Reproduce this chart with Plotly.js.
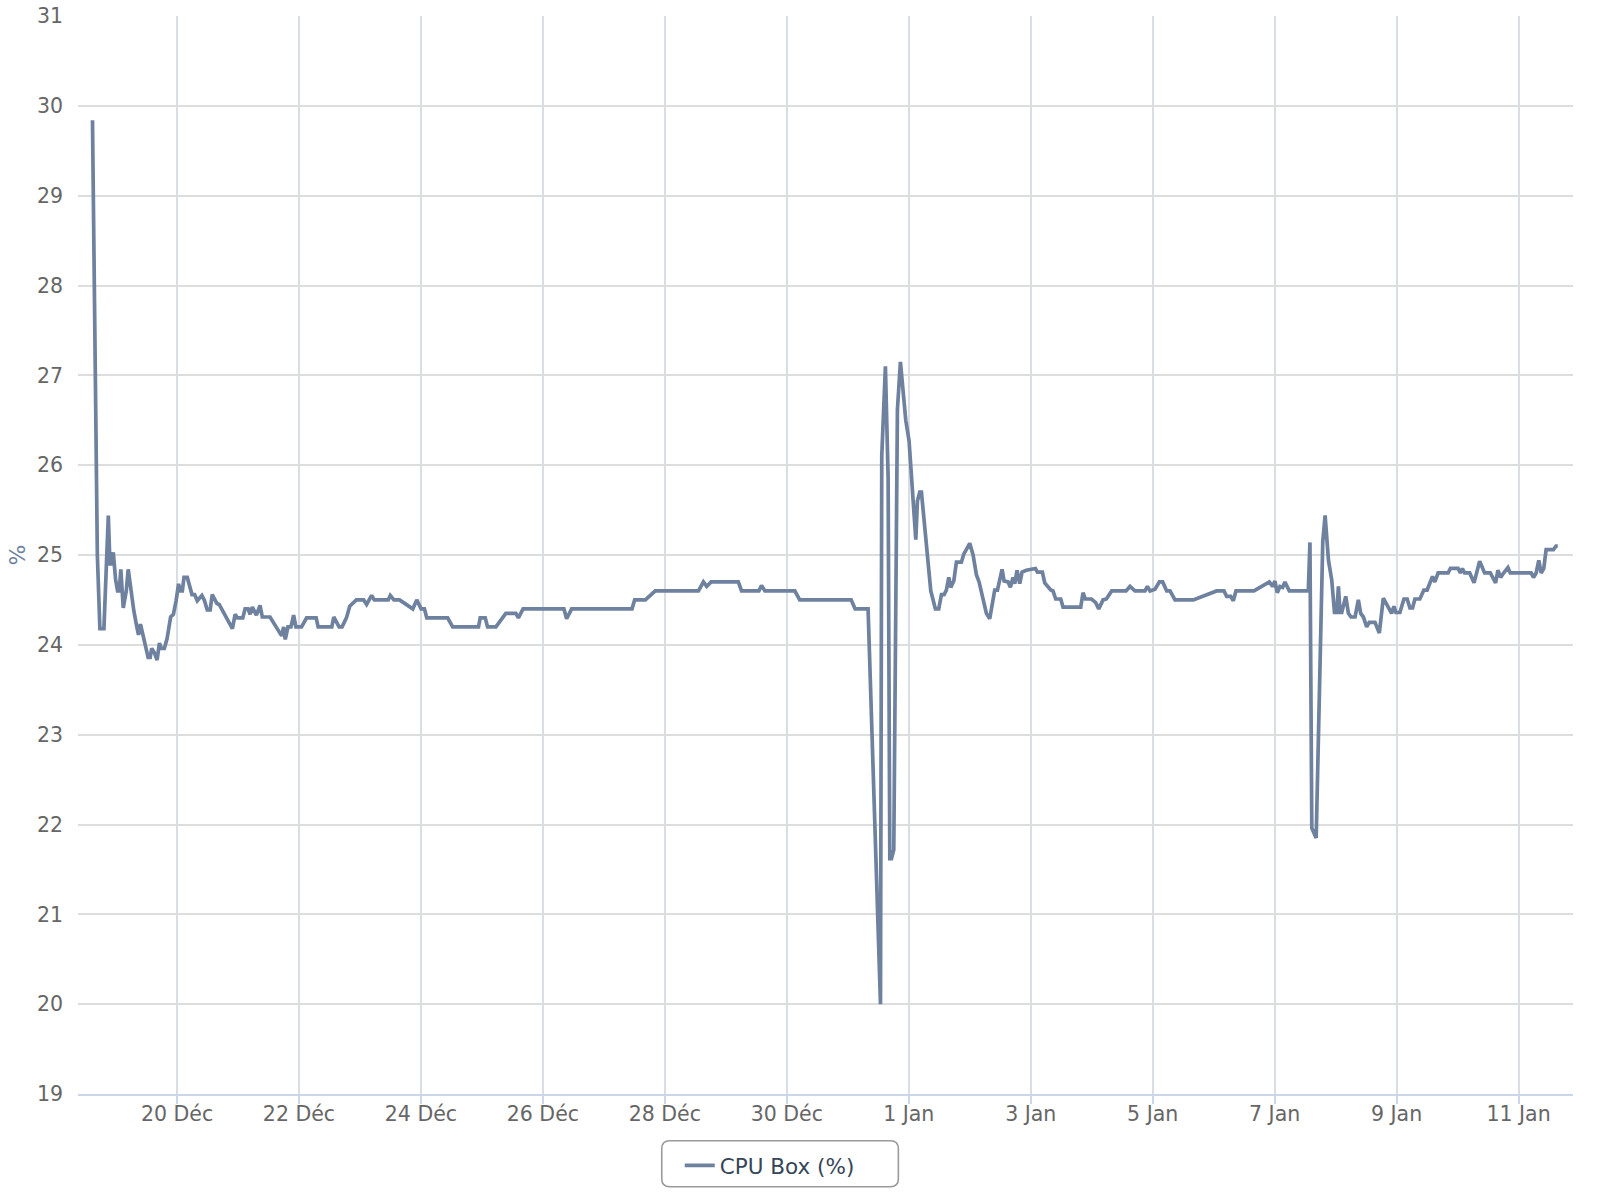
<!DOCTYPE html>
<html>
<head>
<meta charset="utf-8">
<script src="https://cdn.plot.ly/plotly-3.0.1.min.js"></script>
<style>html,body{margin:0;padding:0;background:#fff;}#chart{width:1600px;height:1202px;}</style>
</head>
<body>
<div id="chart"></div>
<script>
const seriesName = "CPU Box (%)";
const yAxisLabel = "%";

const times = [
"2023-12-18 14:43","2023-12-18 16:38","2023-12-18 17:38","2023-12-18 19:13","2023-12-18 20:57","2023-12-18 21:35","2023-12-18 22:13","2023-12-18 22:54","2023-12-18 23:48",
"2023-12-19 00:36","2023-12-19 01:15","2023-12-19 01:52","2023-12-19 02:50","2023-12-19 04:01","2023-12-19 04:47","2023-12-19 05:49","2023-12-19 06:59","2023-12-19 08:10","2023-12-19 08:50","2023-12-19 09:36","2023-12-19 10:31","2023-12-19 11:34","2023-12-19 12:37","2023-12-19 13:25","2023-12-19 14:02","2023-12-19 15:06","2023-12-19 16:09","2023-12-19 17:04","2023-12-19 17:50","2023-12-19 19:00","2023-12-19 20:05","2023-12-19 21:29","2023-12-19 22:34","2023-12-19 23:37",
"2023-12-20 00:37","2023-12-20 01:11","2023-12-20 02:05","2023-12-20 02:44","2023-12-20 04:02","2023-12-20 05:53","2023-12-20 06:55","2023-12-20 07:58","2023-12-20 09:47","2023-12-20 10:42","2023-12-20 11:53","2023-12-20 13:03","2023-12-20 13:51","2023-12-20 15:42","2023-12-20 16:35","2023-12-20 21:47","2023-12-20 22:52","2023-12-20 23:46",
"2023-12-21 01:52","2023-12-21 02:47","2023-12-21 03:58","2023-12-21 04:45","2023-12-21 05:38","2023-12-21 07:13","2023-12-21 08:40","2023-12-21 09:34","2023-12-21 12:36","2023-12-21 17:11","2023-12-21 17:57","2023-12-21 18:36","2023-12-21 19:39","2023-12-21 20:50","2023-12-21 21:53","2023-12-21 22:46",
"2023-12-22 01:00","2023-12-22 02:59","2023-12-22 06:45","2023-12-22 07:32","2023-12-22 12:55","2023-12-22 13:41","2023-12-22 15:46","2023-12-22 16:57","2023-12-22 18:40","2023-12-22 19:58","2023-12-22 21:01","2023-12-22 22:35",
"2023-12-23 01:26","2023-12-23 02:37","2023-12-23 04:35","2023-12-23 05:38","2023-12-23 11:08","2023-12-23 11:56","2023-12-23 13:21","2023-12-23 15:34","2023-12-23 20:47","2023-12-23 22:21",
"2023-12-24 00:04","2023-12-24 01:22","2023-12-24 02:17","2023-12-24 10:31","2023-12-24 12:29","2023-12-24 22:39","2023-12-24 23:20",
"2023-12-25 01:18","2023-12-25 02:13","2023-12-25 05:30","2023-12-25 06:48","2023-12-25 09:24","2023-12-25 13:21","2023-12-25 14:21","2023-12-25 16:12",
"2023-12-26 08:17","2023-12-26 09:20","2023-12-26 11:18","2023-12-27 11:04","2023-12-27 12:07","2023-12-27 16:19","2023-12-27 20:14",
"2023-12-28 13:13","2023-12-28 15:10","2023-12-28 16:28","2023-12-28 18:11","2023-12-29 04:54","2023-12-29 06:12","2023-12-29 13:00","2023-12-29 14:02","2023-12-29 15:23",
"2023-12-30 03:09","2023-12-30 05:05","2023-12-31 01:21","2023-12-31 02:54","2023-12-31 07:59","2023-12-31 12:52","2023-12-31 13:22","2023-12-31 14:48","2023-12-31 15:52","2023-12-31 16:32","2023-12-31 17:11","2023-12-31 18:06","2023-12-31 19:32","2023-12-31 20:43","2023-12-31 22:49",
"2024-01-01 00:07","2024-01-01 02:46","2024-01-01 03:24","2024-01-01 04:19","2024-01-01 04:59","2024-01-01 06:42","2024-01-01 08:40","2024-01-01 10:29","2024-01-01 11:48","2024-01-01 12:52","2024-01-01 13:54","2024-01-01 14:48","2024-01-01 15:45","2024-01-01 16:32","2024-01-01 17:43","2024-01-01 18:45","2024-01-01 20:43","2024-01-01 21:39",
"2024-01-02 00:00","2024-01-02 01:19","2024-01-02 02:37","2024-01-02 03:40","2024-01-02 04:59","2024-01-02 06:33","2024-01-02 07:52","2024-01-02 09:50","2024-01-02 10:54","2024-01-02 12:43","2024-01-02 13:31","2024-01-02 15:04","2024-01-02 16:00","2024-01-02 17:02","2024-01-02 17:43","2024-01-02 18:37","2024-01-02 19:41","2024-01-02 20:35","2024-01-02 22:17",
"2024-01-03 01:51","2024-01-03 02:37","2024-01-03 04:35","2024-01-03 05:31","2024-01-03 06:49","2024-01-03 07:52","2024-01-03 08:47","2024-01-03 09:50","2024-01-03 11:48","2024-01-03 12:43","2024-01-03 19:41","2024-01-03 20:35","2024-01-03 21:30","2024-01-03 23:53",
"2024-01-04 01:35","2024-01-04 02:46","2024-01-04 04:28","2024-01-04 05:46","2024-01-04 07:52","2024-01-04 13:31","2024-01-04 15:04","2024-01-04 17:02","2024-01-04 20:59","2024-01-04 21:55","2024-01-04 22:57",
"2024-01-05 00:55","2024-01-05 02:37","2024-01-05 03:56","2024-01-05 05:31","2024-01-05 06:49","2024-01-05 08:47","2024-01-05 16:00",
"2024-01-06 01:10","2024-01-06 04:03","2024-01-06 05:07","2024-01-06 06:42","2024-01-06 07:44","2024-01-06 08:47","2024-01-06 15:52","2024-01-06 21:55","2024-01-06 23:12",
"2024-01-07 00:07","2024-01-07 01:03","2024-01-07 02:05","2024-01-07 03:09","2024-01-07 04:03","2024-01-07 05:46","2024-01-07 13:15","2024-01-07 13:54","2024-01-07 14:38","2024-01-07 16:21","2024-01-07 17:40","2024-01-07 18:57","2024-01-07 19:52","2024-01-07 21:11","2024-01-07 22:29","2024-01-07 23:33",
"2024-01-08 00:27","2024-01-08 01:06","2024-01-08 01:46","2024-01-08 02:25","2024-01-08 03:59","2024-01-08 05:02","2024-01-08 06:04","2024-01-08 07:39","2024-01-08 08:57","2024-01-08 09:52","2024-01-08 10:55","2024-01-08 12:14","2024-01-08 13:16","2024-01-08 15:30","2024-01-08 17:12","2024-01-08 18:46","2024-01-08 20:20","2024-01-08 22:02","2024-01-08 22:57","2024-01-08 23:44",
"2024-01-09 01:18","2024-01-09 02:53","2024-01-09 04:11","2024-01-09 05:14","2024-01-09 06:17","2024-01-09 07:12","2024-01-09 09:09","2024-01-09 10:44","2024-01-09 12:01","2024-01-09 13:05","2024-01-09 14:08","2024-01-09 15:03","2024-01-09 16:21","2024-01-09 20:17","2024-01-09 21:11",
"2024-01-10 00:12","2024-01-10 01:06","2024-01-10 01:54","2024-01-10 02:48","2024-01-10 04:46","2024-01-10 06:29","2024-01-10 08:41","2024-01-10 10:39","2024-01-10 12:53","2024-01-10 14:58","2024-01-10 15:53","2024-01-10 16:57","2024-01-10 18:07","2024-01-10 19:49","2024-01-10 20:44",
"2024-01-11 04:58","2024-01-11 05:53","2024-01-11 06:56","2024-01-11 07:58","2024-01-11 08:54","2024-01-11 09:56","2024-01-11 10:51","2024-01-11 13:44","2024-01-11 14:47","2024-01-11 15:26"
];

const cpuValues = [
29.84,25.0,24.18,24.18,25.44,24.9,24.9,25.03,24.73,
24.6,24.6,24.84,24.41,24.6,24.84,24.6,24.38,24.2,24.11,24.23,24.12,23.97,23.86,23.86,23.96,23.91,23.83,24.02,23.96,23.96,24.07,24.31,24.34,24.49,
24.68,24.6,24.6,24.75,24.75,24.56,24.56,24.49,24.55,24.5,24.39,24.39,24.56,24.46,24.45,24.18,24.34,24.3,
24.3,24.4,24.4,24.34,24.42,24.33,24.44,24.31,24.31,24.1,24.2,24.06,24.2,24.2,24.33,24.2,
24.2,24.3,24.3,24.2,24.2,24.31,24.2,24.2,24.3,24.43,24.46,24.5,
24.5,24.45,24.55,24.5,24.5,24.55,24.5,24.5,24.4,24.5,
24.4,24.4,24.3,24.3,24.2,24.2,24.3,
24.3,24.2,24.2,24.25,24.35,24.35,24.3,24.4,
24.4,24.29,24.4,24.4,24.5,24.5,24.6,
24.6,24.7,24.65,24.7,24.7,24.6,24.6,24.66,24.6,
24.6,24.5,24.5,24.4,24.4,20.0,26.1,27.1,25.87,21.62,21.62,21.72,26.62,27.15,26.5,
26.27,25.17,25.6,25.7,25.7,25.2,24.6,24.4,24.4,24.56,24.56,24.61,24.75,24.64,24.71,24.92,24.92,25.01,
25.13,25.0,24.78,24.7,24.53,24.35,24.29,24.61,24.61,24.84,24.71,24.7,24.64,24.75,24.68,24.83,24.68,24.81,24.83,
24.85,24.81,24.81,24.69,24.64,24.61,24.6,24.51,24.51,24.42,24.42,24.58,24.51,24.51,
24.47,24.4,24.5,24.51,24.6,24.6,24.65,24.6,24.6,24.65,24.6,
24.62,24.7,24.7,24.6,24.6,24.5,24.5,
24.6,24.6,24.54,24.54,24.49,24.6,24.6,24.7,24.65,
24.71,24.58,24.65,24.64,24.7,24.6,24.6,25.14,21.96,21.85,23.54,25.15,25.44,24.94,24.72,24.36,
24.36,24.65,24.36,24.36,24.54,24.35,24.31,24.31,24.5,24.35,24.31,24.2,24.25,24.25,24.13,24.52,24.44,24.35,24.43,24.36,
24.36,24.51,24.51,24.41,24.41,24.51,24.51,24.61,24.61,24.7,24.76,24.7,24.8,24.8,24.85,
24.85,24.8,24.85,24.8,24.8,24.69,24.93,24.8,24.8,24.69,24.83,24.75,24.8,24.86,24.8,
24.8,24.75,24.8,24.94,24.8,24.85,25.06,25.06,25.1,25.1
];

const tickDates = ["2023-12-20","2023-12-22","2023-12-24","2023-12-26","2023-12-28","2023-12-30","2024-01-01","2024-01-03","2024-01-05","2024-01-07","2024-01-09","2024-01-11"];
const tickLabels = ["20 Déc","22 Déc","24 Déc","26 Déc","28 Déc","30 Déc","1 Jan","3 Jan","5 Jan","7 Jan","9 Jan","11 Jan"];
const xRange = ["2023-12-18 09:01","2024-01-11 21:26"];
const yRange = [19, 31];

const FONT = "DejaVu Sans, Verdana, sans-serif";

const trace = {
  type: "scatter",
  mode: "lines",
  x: times,
  y: cpuValues,
  name: seriesName,
  line: {color: "#6e819f", width: 3.7},
  hoverinfo: "x+y"
};

// rounded legend frame (pixel-sized path anchored in paper coordinates)
const legendFrame = {
  type: "path",
  xref: "paper", yref: "paper",
  xsizemode: "pixel", ysizemode: "pixel",
  xanchor: 0.4696, yanchor: -0.0647,
  path: "M -110.3,-23 L 110.3,-23 Q 118.3,-23 118.3,-15 L 118.3,15 Q 118.3,23 110.3,23 L -110.3,23 Q -118.3,23 -118.3,15 L -118.3,-15 Q -118.3,-23 -110.3,-23 Z",
  line: {color: "#9a9a9a", width: 1.6},
  fillcolor: "rgba(255,255,255,0)",
  layer: "below"
};

// y-axis title placed near the far left edge, as in the reference
const yTitle = {
  text: yAxisLabel,
  xref: "paper", yref: "paper",
  x: -0.0502, y: 0.5,
  xanchor: "left", yanchor: "middle",
  textangle: -90,
  showarrow: false,
  font: {family: FONT, size: 22, color: "#6e819f"}
};

const layout = {
  width: 1600,
  height: 1202,
  paper_bgcolor: "#ffffff",
  plot_bgcolor: "#ffffff",
  margin: {l: 78, r: 27, t: 16, b: 108, pad: 0},
  font: {family: FONT, size: 20, color: "#666666"},
  showlegend: true,
  shapes: [legendFrame],
  annotations: [yTitle],
  xaxis: {
    type: "date",
    range: xRange,
    tickmode: "array",
    tickvals: tickDates,
    ticktext: tickLabels,
    showgrid: true,
    gridcolor: "#d9dde4",
    gridwidth: 1.6,
    showline: true,
    linecolor: "#ccd6eb",
    linewidth: 2,
    ticks: "outside",
    ticklen: 8,
    tickwidth: 1.6,
    tickcolor: "#ccd6eb",
    ticklabelstandoff: -8,
    tickfont: {family: FONT, size: 20.5, color: "#666666"},
    zeroline: false,
    fixedrange: true
  },
  yaxis: {
    range: yRange,
    tick0: 19,
    dtick: 1,
    showgrid: true,
    gridcolor: "#dddddd",
    gridwidth: 1.6,
    showline: false,
    zeroline: false,
    ticks: "",
    ticklabelstandoff: 14,
    tickfont: {family: FONT, size: 20.5, color: "#666666"},
    fixedrange: true
  },
  legend: {
    orientation: "h",
    x: 0.4025,
    xanchor: "left",
    y: -0.0473,
    yanchor: "top",
    bgcolor: "rgba(255,255,255,0)",
    borderwidth: 0,
    font: {family: FONT, size: 21.5, color: "#364659"}
  }
};

Plotly.newPlot("chart", [trace], layout, {displayModeBar: false});
</script>
</body>
</html>
